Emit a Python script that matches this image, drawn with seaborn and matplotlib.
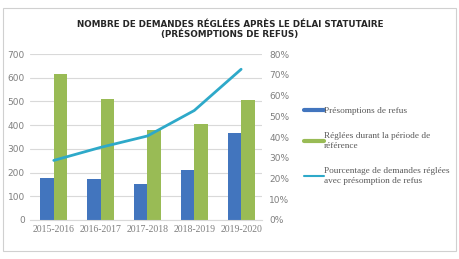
import pandas as pd
import numpy as np
import matplotlib
matplotlib.use('Agg')
import matplotlib.pyplot as plt
import seaborn as sns
from matplotlib.lines import Line2D
from matplotlib.patches import Rectangle

# Data
years = ['2015-2016', '2016-2017', '2017-2018', '2018-2019', '2019-2020']
presomptions = [177, 171, 153, 212, 368]
reglees = [618, 509, 379, 407, 508]
pourcentage = [28.7, 35.0, 40.5, 52.8, 72.7]

series_names = ['Présomptions de refus', 'Réglées durant la période de\nréférence',
                'Pourcentage de demandes réglées\navec présomption de refus']
colors = ['#4275BE', '#99BB55', '#2EA9C9']

df = pd.DataFrame({
    'year': years * 2,
    'value': presomptions + reglees,
    'series': [series_names[0]] * 5 + [series_names[1]] * 5,
})

sns.set_style('white')
plt.rcParams['font.family'] = ['DejaVu Sans']

fig = plt.figure(figsize=(4.6, 2.59), dpi=100)
ax = fig.add_axes([0.066, 0.151, 0.504, 0.64])

sns.barplot(data=df, x='year', y='value', hue='series', palette=colors[:2],
            width=0.58, gap=0, ax=ax, legend=False, saturation=1, linewidth=0)
ax.set_ylim(0, 700)
ax.set_xlim(-0.5, 4.45)
ax.set_yticks(range(0, 701, 100))
ax.yaxis.grid(True, color='#D9D9D9', lw=0.8)
ax.set_axisbelow(True)
for s in ax.spines.values():
    s.set_visible(False)
ax.spines['bottom'].set_visible(True)
ax.spines['bottom'].set_color('#D9D9D9')
ax.set_xlabel('')
ax.set_ylabel('')
ax.tick_params(axis='both', length=0, colors='#7F7F7F', labelsize=6.5, pad=4)
for lab in ax.get_xticklabels():
    lab.set_family('Liberation Serif')
    lab.set_fontsize(7)

ax2 = ax.twinx()
sns.lineplot(x=np.arange(len(years)), y=pourcentage, color=colors[2], lw=2, ax=ax2)
ax2.set_ylim(0, 80)
ax2.set_yticks(range(0, 81, 10))
ax2.set_yticklabels([f'{v}%' for v in range(0, 81, 10)])
ax2.tick_params(axis='y', length=0, colors='#7F7F7F', labelsize=6.5, pad=5)
for s in ax2.spines.values():
    s.set_visible(False)

fig.text(0.5, 0.885, 'NOMBRE DE DEMANDES RÉGLÉES APRÈS LE DÉLAI STATUTAIRE\n(PRÉSOMPTIONS DE REFUS)',
         ha='center', va='center', fontsize=6.3, fontweight='bold', color='#262626',
         linespacing=1.1)

handles = [Line2D([0], [0], color=c, lw=3) for c in colors]
handles[2] = Line2D([0], [0], color=colors[2], lw=1.5)
leg = fig.legend(handles, series_names, loc='upper left', bbox_to_anchor=(0.643, 0.62),
                 frameon=False, handlelength=2.1, handletextpad=0.05, labelspacing=1.75,
                 prop={'family': 'Liberation Serif', 'size': 6.7})
for t in leg.get_texts():
    t.set_color('#595959')
    t.set_linespacing(1.45)

fig.add_artist(Rectangle((0.006, 0.03), 0.985, 0.94, transform=fig.transFigure,
                         fill=False, edgecolor='#D0D0D0', lw=0.8))

fig.savefig('out.png', dpi=100)
